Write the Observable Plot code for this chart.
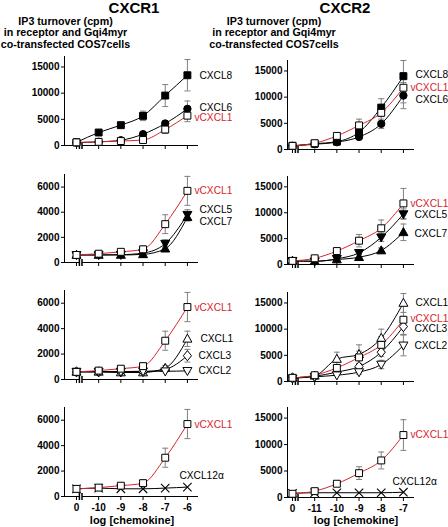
<!DOCTYPE html>
<html>
<head>
<meta charset="utf-8">
<script src="https://cdn.jsdelivr.net/npm/d3@7"></script>
<script src="https://cdn.jsdelivr.net/npm/@observablehq/plot@0.6"></script>
<style>
  html, body { margin: 0; padding: 0; background: #fff; }
  #wrap { position: relative; width: 448px; height: 527px; overflow: hidden; background: #fff;
          font-family: "Liberation Sans", Arial, sans-serif; color: #000; }
  .txt { position: absolute; white-space: nowrap; font-weight: bold; line-height: 1; }
  .panel { position: absolute; }
  .panel svg { overflow: visible; background: transparent; }
  .panel [aria-label$="tick label"] text { font-weight: bold; }
</style>
</head>
<body>
<div id="wrap"></div>
<script>
// ---------- data ----------
const xLabelsCXCR1 = ["0", "-10", "-9", "-8", "-7", "-6"];
const xLabelsCXCR2 = ["0", "-11", "-10", "-9", "-8", "-7"];
const yTicksLarge = [0, 5000, 10000, 15000];
const yTicksSmall = [0, 2000, 4000, 6000];

// CXCR1 (IP3 turnover, cpm) and error bars
const cxcr1_CXCL8      = [600, 2480, 3880, 5660, 9540, 13420];
const cxcr1_CXCL8_err  = [0, 300, 350, 900, 2100, 3000];
const cxcr1_CXCL6      = [550, 700, 1000, 2170, 4200, 7000];
const cxcr1_CXCL6_err  = [0, 0, 0, 300, 500, 1500];
const cxcr1_vCXCL1     = [600, 700, 850, 1050, 3050, 5700];
const cxcr1_vCXCL1_err = [250, 100, 150, 250, 750, 1150];
const cxcr1_CXCL5      = [600, 600, 620, 750, 1500, 3800];
const cxcr1_CXCL5_err  = [0, 0, 0, 0, 300, 400];
const cxcr1_CXCL7      = [600, 600, 600, 650, 1100, 3600];
const cxcr1_CXCL7_err  = [0, 0, 0, 0, 200, 300];
const cxcr1_CXCL1      = [600, 600, 550, 550, 900, 3200];
const cxcr1_CXCL1_err  = [0, 0, 0, 0, 200, 600];
const cxcr1_CXCL3      = [600, 600, 600, 620, 800, 1870];
const cxcr1_CXCL3_err  = [0, 0, 0, 0, 150, 500];
const cxcr1_CXCL2      = [620, 620, 620, 650, 650, 680];
const cxcr1_CXCL2_err  = [0, 0, 0, 0, 0, 100];
const cxcr1_CXCL12a    = [600, 660, 605, 605, 660, 740];

// CXCR2
const cxcr2_CXCL8      = [700, 1100, 1500, 3300, 8000, 14000];
const cxcr2_CXCL8_err  = [0, 0, 200, 500, 1700, 3000];
const cxcr2_vCXCL1     = [700, 1200, 2600, 4600, 7000, 11800];
const cxcr2_vCXCL1_err = [200, 300, 400, 1200, 1600, 2900];
const cxcr2_CXCL6      = [700, 1000, 1400, 2400, 4900, 10300];
const cxcr2_CXCL6_err  = [0, 0, 0, 300, 900, 2500];
const cxcr2_CXCL5      = [700, 600, 1100, 2240, 5260, 9740];
const cxcr2_CXCL5_err  = [0, 0, 0, 300, 800, 1000];
const cxcr2_CXCL7      = [700, 650, 960, 1410, 2700, 6220];
const cxcr2_CXCL7_err  = [0, 0, 0, 200, 500, 1600];
const cxcr2_CXCL1      = [700, 1100, 4300, 5200, 8300, 15000];
const cxcr2_CXCL1_err  = [0, 200, 1300, 1800, 1700, 1800];
const cxcr2_CXCL3      = [700, 1000, 1800, 2860, 5600, 10500];
const cxcr2_CXCL3_err  = [0, 0, 0, 300, 800, 1500];
const cxcr2_CXCL2      = [600, 900, 1200, 1800, 3250, 6900];
const cxcr2_CXCL2_err  = [0, 0, 0, 400, 800, 2000];
const cxcr2_CXCL12a    = [800, 900, 900, 900, 900, 1000];

// ---------- styles / symbols ----------
const RED = "#d6262c";
const GREY = "#808080";
const FONT = "'Liberation Sans', Arial, sans-serif";
const AXIS_BREAK = 0.19;
const rOf = s => Math.sqrt(s / Math.PI);
const SYM = {
  square: "square",
  circle: "circle",
  times: "times",
  up: {draw(c, s) { const r = rOf(s); c.moveTo(0, -1.2 * r); c.lineTo(1.15 * r, 0.85 * r); c.lineTo(-1.15 * r, 0.85 * r); c.closePath(); }},
  down: {draw(c, s) { const r = rOf(s); c.moveTo(0, 1.2 * r); c.lineTo(1.15 * r, -0.85 * r); c.lineTo(-1.15 * r, -0.85 * r); c.closePath(); }},
  diamond: {draw(c, s) { const r = rOf(s); c.moveTo(0, -1.3 * r); c.lineTo(1.05 * r, 0); c.lineTo(0, 1.3 * r); c.lineTo(-1.05 * r, 0); c.closePath(); }},
  cap: {draw(c) { c.moveTo(-3, 0); c.lineTo(3, 0); }},
  brkFill: {draw(c) { c.rect(-1.3, -3.5, 2.6, 7); }},
  brkLines: {draw(c) { c.moveTo(-1.3, -3.5); c.lineTo(-1.3, 3.5); c.moveTo(1.3, -3.5); c.lineTo(1.3, 3.5); }}
};

const S = (name, v, e, shape, open, color, dx, dy) => ({name, v, e, shape, open, color, dx, dy});

const panels = [
  {side: "L", top: 56, base: 145, ymax: 17000, yticks: yTicksLarge, labels: xLabelsCXCR1, bottom: false, series: [
    S("CXCL8", cxcr1_CXCL8, cxcr1_CXCL8_err, "square", false, "#000", 12, 0),
    S("CXCL6", cxcr1_CXCL6, cxcr1_CXCL6_err, "circle", false, "#000", 12, -1),
    S("vCXCL1", cxcr1_vCXCL1, cxcr1_vCXCL1_err, "square", true, RED, 7, 2)]},
  {side: "R", top: 60, base: 149, ymax: 17000, yticks: yTicksLarge, labels: xLabelsCXCR2, bottom: false, series: [
    S("CXCL8", cxcr2_CXCL8, cxcr2_CXCL8_err, "square", false, "#000", 12, -1),
    S("CXCL6", cxcr2_CXCL6, cxcr2_CXCL6_err, "circle", false, "#000", 12, 4),
    S("vCXCL1", cxcr2_vCXCL1, cxcr2_vCXCL1_err, "square", true, RED, 7, 0)]},
  {side: "L", top: 174, base: 262, ymax: 7000, yticks: yTicksSmall, labels: xLabelsCXCR1, bottom: false, series: [
    S("CXCL5", cxcr1_CXCL5, cxcr1_CXCL5_err, "down", false, "#000", 12, -5),
    S("CXCL7", cxcr1_CXCL7, cxcr1_CXCL7_err, "up", false, "#000", 12, 4),
    S("vCXCL1", cxcr1_vCXCL1, cxcr1_vCXCL1_err, "square", true, RED, 7, 0)]},
  {side: "R", top: 176, base: 264, ymax: 17000, yticks: yTicksLarge, labels: xLabelsCXCR2, bottom: false, series: [
    S("CXCL5", cxcr2_CXCL5, cxcr2_CXCL5_err, "down", false, "#000", 11, 1),
    S("CXCL7", cxcr2_CXCL7, cxcr2_CXCL7_err, "up", false, "#000", 11, 1),
    S("vCXCL1", cxcr2_vCXCL1, cxcr2_vCXCL1_err, "square", true, RED, 7, 0)]},
  {side: "L", top: 290, base: 379, ymax: 7000, yticks: yTicksSmall, labels: xLabelsCXCR1, bottom: false, series: [
    S("CXCL1", cxcr1_CXCL1, cxcr1_CXCL1_err, "up", true, "#000", 13, 0),
    S("CXCL3", cxcr1_CXCL3, cxcr1_CXCL3_err, "diamond", true, "#000", 11, 0),
    S("CXCL2", cxcr1_CXCL2, cxcr1_CXCL2_err, "down", true, "#000", 11, 0),
    S("vCXCL1", cxcr1_vCXCL1, cxcr1_vCXCL1_err, "square", true, RED, 7, 1)]},
  {side: "R", top: 292, base: 381, ymax: 17000, yticks: yTicksLarge, labels: xLabelsCXCR2, bottom: false, series: [
    S("CXCL1", cxcr2_CXCL1, cxcr2_CXCL1_err, "up", true, "#000", 12, 0),
    S("CXCL3", cxcr2_CXCL3, cxcr2_CXCL3_err, "diamond", true, "#000", 11, 2),
    S("CXCL2", cxcr2_CXCL2, cxcr2_CXCL2_err, "down", true, "#000", 11, 0),
    S("vCXCL1", cxcr2_vCXCL1, cxcr2_vCXCL1_err, "square", true, RED, 7, -1)]},
  {side: "L", top: 407, base: 496, ymax: 7000, yticks: yTicksSmall, labels: xLabelsCXCR1, bottom: true, series: [
    S("CXCL12α", cxcr1_CXCL12a, null, "times", false, "#000", -8, -11),
    S("vCXCL1", cxcr1_vCXCL1, cxcr1_vCXCL1_err, "square", true, RED, 7, 1)]},
  {side: "R", top: 407, base: 497, ymax: 17000, yticks: yTicksLarge, labels: xLabelsCXCR2, bottom: true, series: [
    S("CXCL12α", cxcr2_CXCL12a, null, "times", false, "#000", -11, -10),
    S("vCXCL1", cxcr2_vCXCL1, cxcr2_vCXCL1_err, "square", true, RED, 7, 0)]}
];

const wrap = document.getElementById("wrap");

function addText(str, x, top, size) {
  const d = document.createElement("div");
  d.className = "txt";
  d.textContent = str;
  d.style.fontSize = size + "px";
  d.style.top = top + "px";
  d.style.left = x + "px";
  d.style.transform = "translateX(-50%)";
  wrap.appendChild(d);
}

function drawPanel(p) {
  const L = p.side === "L";
  const pageLeft = L ? 0 : 224;
  const width = L ? 250 : 224;
  const marginLeft = L ? 64 : 63;
  const marginRight = L ? 52 : 34;
  const xd = L ? [-0.54, 5.5] : [-0.225, 5.5];
  const mt = 6, mb = p.bottom ? 22 : 6;
  const height = (p.base - p.top) + mt + mb;
  const idx = p.labels.map((_, i) => i);

  const lineMarks = [], errMarks = [], dotMarks = [], textMarks = [];
  for (const s of p.series) {
    const pts = s.v.map((y, i) => ({x: i, y}));
    lineMarks.push(Plot.line(pts, {x: "x", y: "y", stroke: s.color, strokeWidth: 1, curve: "monotone-x"}));
    if (s.e) {
      const errs = s.v.map((y, i) => ({x: i, lo: y - s.e[i], hi: y + s.e[i], e: s.e[i]})).filter(d => d.e > 0);
      errMarks.push(
        Plot.ruleX(errs, {x: "x", y1: "lo", y2: "hi", stroke: GREY, strokeWidth: 1}),
        Plot.dot(errs, {x: "x", y: "hi", symbol: SYM.cap, stroke: GREY, strokeWidth: 1}),
        Plot.dot(errs, {x: "x", y: "lo", symbol: SYM.cap, stroke: GREY, strokeWidth: 1})
      );
    }
    const isTimes = s.shape === "times";
    const r = s.shape === "circle" ? 3.7 : 3.9;
    dotMarks.push(Plot.dot(pts, {
      x: "x", y: "y", symbol: SYM[s.shape], r,
      fill: isTimes ? "none" : (s.open ? "white" : "black"),
      stroke: "black", strokeWidth: isTimes ? 1.1 : 1
    }));
    textMarks.push(Plot.text([pts[pts.length - 1]], {
      x: "x", y: "y", text: () => s.name, dx: s.dx, dy: s.dy,
      textAnchor: "start", fill: s.color, fontSize: 10.2, fontFamily: FONT
    }));
  }

  const chart = Plot.plot({
    width, height, marginLeft, marginRight, marginTop: mt, marginBottom: mb,
    style: {background: "transparent", overflow: "visible", fontFamily: FONT, fontSize: "10px", color: "#000"},
    x: {type: "linear", domain: xd, label: null},
    y: {type: "linear", domain: [0, p.ymax], label: null},
    marks: [
      Plot.axisY(p.yticks, {tickSize: 3, tickPadding: 2, tickFormat: d => String(d), fontSize: 10, fontWeight: "bold", label: null}),
      Plot.axisX(idx, {tickSize: 4, tickPadding: 3, tickFormat: p.bottom ? (i => p.labels[i]) : (() => ""), fontSize: 10, fontWeight: "bold", label: null}),
      Plot.ruleY([0], {stroke: "black"}),
      Plot.ruleX([xd[0]], {stroke: "black"}),
      Plot.dot([{x: AXIS_BREAK, y: 0}], {x: "x", y: "y", symbol: SYM.brkFill, fill: "white", stroke: "none"}),
      Plot.dot([{x: AXIS_BREAK, y: 0}], {x: "x", y: "y", symbol: SYM.brkLines, fill: "none", stroke: "black"}),
      ...lineMarks,
      ...errMarks,
      ...dotMarks,
      ...textMarks
    ]
  });
  const holder = document.createElement("div");
  holder.className = "panel";
  holder.style.left = pageLeft + "px";
  holder.style.top = (p.top - mt) + "px";
  holder.appendChild(chart);
  wrap.appendChild(holder);
}

panels.forEach(drawPanel);

// titles and subtitles (top = top of text box)
addText("CXCR1", 134, 0, 15);
addText("CXCR2", 345, 0, 15);
const sub = ["IP3 turnover (cpm)", "in receptor and Gqi4myr", "co-transfected COS7cells"];
sub.forEach((t, i) => {
  addText(t, 65.5, 15.5 + i * 11.7, 10.7);
  addText(t, 274, 15.5 + i * 11.7, 10.7);
});
addText("log [chemokine]", 132, 514.5, 11);
addText("log [chemokine]", 356, 514.5, 11);
</script>
</body>
</html>
